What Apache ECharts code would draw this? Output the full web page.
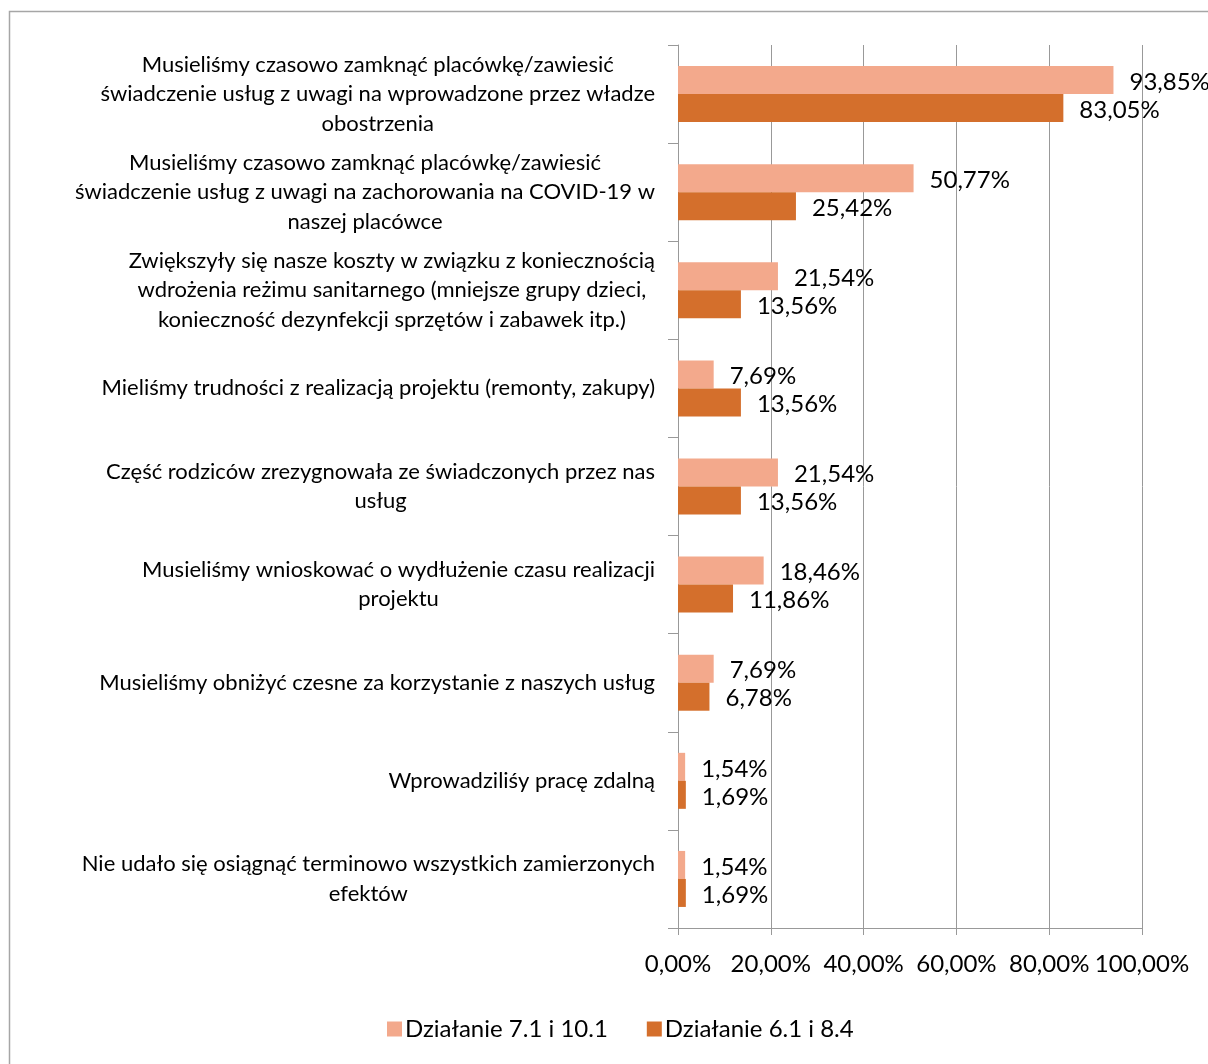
<!DOCTYPE html>
<html>
<head>
<meta charset="utf-8">
<script src="https://cdn.jsdelivr.net/npm/echarts@6/dist/echarts.min.js"></script>
<style>html,body{margin:0;padding:0;background:#fff;}#c{width:1208px;height:1064px;}</style>
</head>
<body>
<div id="c"></div>
<script>
const categories = [
  "Musieliśmy czasowo zamknąć placówkę/zawiesić\nświadczenie usług z uwagi na wprowadzone przez władze\nobostrzenia",
  "Musieliśmy czasowo zamknąć placówkę/zawiesić\nświadczenie usług z uwagi na zachorowania na COVID-19 w\nnaszej placówce",
  "Zwiększyły się nasze koszty w związku z koniecznością\nwdrożenia reżimu sanitarnego (mniejsze grupy dzieci,\nkonieczność dezynfekcji sprzętów i zabawek itp.)",
  "Mieliśmy trudności z realizacją projektu (remonty, zakupy)",
  "Część rodziców zrezygnowała ze świadczonych przez nas\nusług",
  "Musieliśmy wnioskować o wydłużenie czasu realizacji\nprojektu",
  "Musieliśmy obniżyć czesne za korzystanie z naszych usług",
  "Wprowadziliśy pracę zdalną",
  "Nie udało się osiągnąć terminowo wszystkich zamierzonych\nefektów"
];
const seriesNames = ["Działanie 7.1 i 10.1", "Działanie 6.1 i 8.4"];
const values71 = [93.85, 50.77, 21.54, 7.69, 21.54, 18.46, 7.69, 1.54, 1.54];
const values61 = [83.05, 25.42, 13.56, 13.56, 13.56, 11.86, 6.78, 1.69, 1.69];
const xTicks = [0, 20, 40, 60, 80, 100];

const FONT = 'Lato';
const CAT_SIZE = 22;
const NUM_SIZE = 24;
const fmtPct = v => v.toFixed(2).replace('.', ',') + '%';

const chart = echarts.init(document.getElementById('c'));
chart.setOption({
  backgroundColor: '#fff',
  animation: false,
  textStyle: { fontFamily: FONT },
  graphic: [{
    type: 'rect', silent: true,
    shape: { x: 9.5, y: 11.5, width: 1400, height: 1200 },
    style: { fill: 'none', stroke: '#a6a6a6', lineWidth: 1.5 }
  }],
  grid: { left: 678, right: 66, top: 45, bottom: 136, containLabel: false },
  legend: {
    top: 1012, left: 382,
    itemWidth: 15, itemHeight: 15, itemGap: 39,
    icon: 'rect',
    textStyle: { fontFamily: FONT, fontSize: NUM_SIZE, color: '#000', padding: [0, 0, 0, -2] },
    data: seriesNames
  },
  xAxis: {
    type: 'value', min: 0, max: 100, interval: 20,
    axisLine: { show: true, lineStyle: { color: '#999', width: 1 } },
    axisTick: { show: true, length: 7, lineStyle: { color: '#999' } },
    splitLine: { show: true, lineStyle: { color: '#999', width: 1 } },
    axisLabel: {
      margin: 24, fontFamily: FONT, fontSize: NUM_SIZE, color: '#000',
      formatter: v => xTicks.includes(v) ? fmtPct(v) : ''
    }
  },
  yAxis: {
    type: 'category', inverse: true, data: categories,
    axisLine: { show: true, lineStyle: { color: '#999', width: 1 } },
    axisTick: { show: true, length: 10, lineStyle: { color: '#999' } },
    axisLabel: {
      margin: 23, fontFamily: FONT, fontSize: CAT_SIZE, color: '#000',
      lineHeight: 29.5,
      formatter: v => v.split('\n').map(l => '{c|' + l + '}').join('\n'),
      rich: { c: { align: 'center', fontFamily: FONT, fontSize: CAT_SIZE, color: '#000', lineHeight: 29.5 } }
    }
  },
  series: [
    {
      name: seriesNames[0], type: 'bar', data: values71,
      barWidth: 28, barGap: '0%',
      itemStyle: { color: '#F3A98C' },
      label: { show: true, position: 'right', distance: 16, offset: [0, 2], fontFamily: FONT, fontSize: NUM_SIZE, color: '#000',
        formatter: p => fmtPct(p.value) }
    },
    {
      name: seriesNames[1], type: 'bar', data: values61,
      barWidth: 28, barGap: '0%',
      itemStyle: { color: '#D46F2C' },
      label: { show: true, position: 'right', distance: 16, offset: [0, 2], fontFamily: FONT, fontSize: NUM_SIZE, color: '#000',
        formatter: p => fmtPct(p.value) }
    }
  ]
});
</script>
</body>
</html>
